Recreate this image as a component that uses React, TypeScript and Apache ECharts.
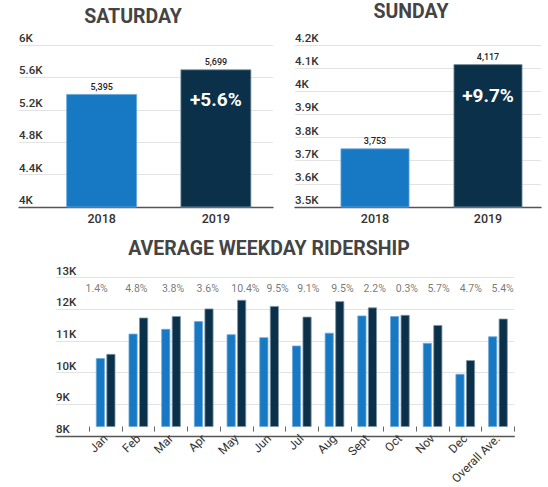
import React, { useEffect, useRef } from "react";
import * as echarts from "echarts";

const years = ["2018", "2019"];
const saturdayValues = [5395, 5699];
const saturdayChange = "+5.6%";
const sundayValues = [3753, 4117];
const sundayChange = "+9.7%";

const months = ["Jan", "Feb", "Mar", "Apr", "May", "Jun", "Jul", "Aug", "Sept", "Oct", "Nov", "Dec", "Overall Ave."];
const weekday2018 = [10300, 11120, 11280, 11540, 11100, 11000, 10720, 11150, 11730, 11710, 10810, 9770, 11030];
const weekday2019 = [10440, 11660, 11710, 11965, 12255, 12050, 11690, 12210, 12000, 11750, 11410, 10230, 11625];
const weekdayChange = ["1.4%", "4.8%", "3.8%", "3.6%", "10.4%", "9.5%", "9.1%", "9.5%", "2.2%", "0.3%", "5.7%", "4.7%", "5.4%"];
const pctLabelLevel = 12640;
// horizontal nudges (px) of the percentage annotations, as typeset in the original
const pctLabelNudge = [-9, -2, 2, 4, 9, 8.5, 6.5, 8, 7.5, 7, 6, 5.5, 4.7];

const LIGHT = "#1778c4";
const DARK = "#0b3049";
const LIGHT_EDGE = "#6fa9d8";
const DARK_EDGE = "#7d95a6";
const FONT = "Roboto, 'Noto Sans', sans-serif";
const GRIDLINE = "#e3e3e3";
const AXISLINE = "#555555";

const kFmt = (v: number) => parseFloat((v / 1000).toFixed(1)) + "K";
const comma = (v: number) => v.toLocaleString("en-US");

export default function App() {
  const ref = useRef<HTMLDivElement>(null);
  useEffect(() => {
    if (!ref.current) return;
    const chart = echarts.init(ref.current, null, { renderer: "svg" });

    const bgY = (gi: number, min: number, max: number, interval: number) => ({
      gridIndex: gi,
      type: "value",
      min,
      max,
      interval,
      axisLine: { show: false },
      axisTick: { show: false },
      splitLine: { show: true, lineStyle: { color: GRIDLINE, width: 1 } },
      axisLabel: {
        inside: true,
        margin: 0,
        align: "left",
        verticalAlign: "bottom",
        padding: [0, 0, 1, 0],
        fontFamily: FONT,
        fontSize: 11.5,
        fontWeight: 500,
        color: "#333",
        formatter: kFmt,
      },
    });
    const hiddenY = (gi: number, min: number, max: number) => ({
      gridIndex: gi,
      type: "value",
      min,
      max,
      show: false,
      splitLine: { show: false },
    });
    const bgX = (gi: number) => ({
      gridIndex: gi,
      type: "category",
      data: [""],
      axisLine: { show: true, lineStyle: { color: AXISLINE, width: 1.3 } },
      axisTick: { show: false },
      axisLabel: { show: false },
      splitLine: { show: false },
    });
    const yearX = (gi: number) => ({
      gridIndex: gi,
      type: "category",
      data: years,
      axisLine: { show: false },
      axisTick: { show: false },
      axisLabel: { margin: 5, fontFamily: FONT, fontSize: 12.5, fontWeight: 500, color: "#333" },
    });

    const valueLabel = {
      show: true,
      position: "top",
      distance: 3,
      fontFamily: FONT,
      fontSize: 9,
      fontWeight: 500,
      color: "#222",
      formatter: (p: any) => comma(p.value),
    };
    const lightStyle = { color: LIGHT, borderColor: LIGHT_EDGE, borderWidth: 0.8 };
    const darkStyle = { color: DARK, borderColor: DARK_EDGE, borderWidth: 0.8 };

    const option: any = {
      animation: false,
      backgroundColor: "#ffffff",
      grid: [
        { left: 19, top: 45, width: 254, height: 162 },
        { left: 44.5, top: 45, width: 228.5, height: 162 },
        { left: 295, top: 45, width: 246, height: 162 },
        { left: 318.5, top: 45, width: 226, height: 162 },
        { left: 56, top: 277.7, width: 458.3, height: 158.3 },
        { left: 89.3, top: 277.7, width: 425, height: 158.3 },
      ],
      xAxis: [
        bgX(0),
        yearX(1),
        bgX(2),
        yearX(3),
        bgX(4),
        {
          gridIndex: 5,
          type: "category",
          data: months,
          axisLine: { show: false },
          axisTick: { show: true, length: 5, lineStyle: { color: "#666", width: 1 } },
          axisLabel: {
            rotate: 45,
            margin: 10,
            interval: 0,
            fontFamily: FONT,
            fontSize: 12,
            color: "#333",
          },
        },
      ],
      yAxis: [
        bgY(0, 4000, 6000, 400),
        hiddenY(1, 4000, 6000),
        bgY(2, 3500, 4200, 100),
        hiddenY(3, 3500, 4200),
        bgY(4, 8000, 13000, 1000),
        hiddenY(5, 8000, 13000),
      ],
      series: [
        {
          type: "bar",
          xAxisIndex: 1,
          yAxisIndex: 1,
          barWidth: "62%",
          data: saturdayValues.map((v, i) => ({ value: v, itemStyle: i === 0 ? lightStyle : darkStyle })),
          label: valueLabel,
        },
        {
          type: "bar",
          xAxisIndex: 3,
          yAxisIndex: 3,
          barWidth: "61%",
          data: sundayValues.map((v, i) => ({ value: v, itemStyle: i === 0 ? lightStyle : darkStyle })),
          label: valueLabel,
        },
        {
          name: "2018",
          type: "bar",
          xAxisIndex: 5,
          yAxisIndex: 5,
          barWidth: 9,
          barGap: "17%",
          itemStyle: lightStyle,
          data: weekday2018,
        },
        {
          name: "2019",
          type: "bar",
          xAxisIndex: 5,
          yAxisIndex: 5,
          barWidth: 9,
          barGap: "17%",
          itemStyle: darkStyle,
          data: weekday2019,
        },
        {
          type: "scatter",
          xAxisIndex: 5,
          yAxisIndex: 5,
          symbolSize: 0,
          silent: true,
          data: weekdayChange.map((_, i) => ({
            value: pctLabelLevel,
            label: { offset: [pctLabelNudge[i], 0] },
          })),
          label: {
            show: true,
            position: "inside",
            fontFamily: FONT,
            fontSize: 10.5,
            color: "#555",
            formatter: (p: any) => weekdayChange[p.dataIndex],
          },
        },
      ],
    };
    chart.setOption(option);

    const sat = chart.convertToPixel({ seriesIndex: 0 } as any, [1, saturdayValues[1]]) as number[];
    const sun = chart.convertToPixel({ seriesIndex: 1 } as any, [1, sundayValues[1]]) as number[];
    const titleStyle = { fontFamily: FONT, fontSize: 19.5, fontWeight: "bold", fill: "#444", align: "center", verticalAlign: "middle" };
    const changeStyle = { fontFamily: FONT, fontSize: 19, fontWeight: "bold", fill: "#fff", align: "center", verticalAlign: "middle" };
    chart.setOption({
      graphic: [
        { type: "text", z: 100, x: 133, y: 16, style: { ...titleStyle, text: "SATURDAY" } },
        { type: "text", z: 100, x: 411, y: 11, style: { ...titleStyle, text: "SUNDAY" } },
        { type: "text", z: 100, x: 269, y: 248, style: { ...titleStyle, text: "AVERAGE WEEKDAY RIDERSHIP" } },
        { type: "text", z: 100, x: sat[0], y: sat[1] + 30, style: { ...changeStyle, text: saturdayChange } },
        { type: "text", z: 100, x: sun[0], y: sun[1] + 31, style: { ...changeStyle, text: sundayChange } },
      ],
    });

    return () => chart.dispose();
  }, []);

  return (
    <div
      ref={ref}
      style={{ position: "absolute", left: 0, top: 0, width: 548, height: 487 }}
    />
  );
}
